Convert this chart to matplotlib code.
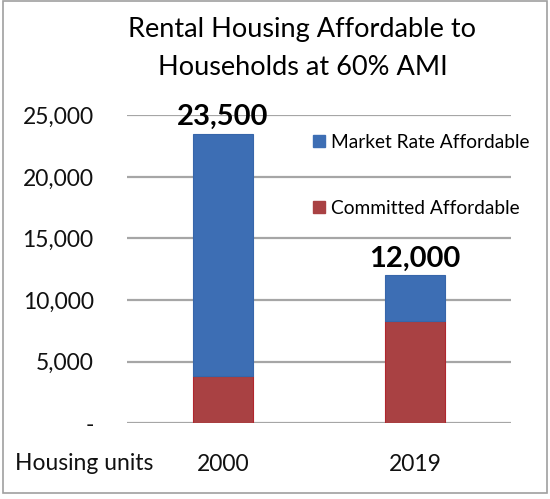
import matplotlib
matplotlib.use('Agg')
import matplotlib.pyplot as plt
from matplotlib.patches import Rectangle
from matplotlib.lines import Line2D
from matplotlib.ticker import FuncFormatter

years = ['2000', '2019']
committed = [3800, 8300]
market_rate = [19700, 3700]
totals = ['23,500', '12,000']

blue = '#3D6EB4'
red = '#A94143'

plt.rcParams['font.family'] = ['Lato', 'DejaVu Sans']

fig = plt.figure(figsize=(5.5, 4.99), dpi=100)
ax = fig.add_axes([0.231, 0.152, 0.698, 0.617])

x = range(len(years))
ax.bar(x, committed, width=0.31, color=red, edgecolor='#B0262E', linewidth=0.8, zorder=3)
ax.bar(x, market_rate, bottom=committed, width=0.31, color=blue, edgecolor='#3766AA',
       linewidth=0.8, zorder=3)

for i, lab in enumerate(totals):
    top = committed[i] + market_rate[i]
    ax.text(i, top + 300, lab, ha='center', va='bottom', fontsize=21, fontweight='bold',
            color='black', clip_on=False)

ax.set_xlim(-0.5, 1.5)
ax.set_ylim(0, 25000)
ax.set_yticks(range(0, 25001, 5000))
ax.yaxis.set_major_formatter(FuncFormatter(lambda v, p: '-' if v == 0 else f'{int(v):,}'))
ax.set_xticks(list(x))
ax.set_xticklabels(years)
ax.tick_params(axis='both', length=0, labelsize=16.5, colors='#111111')
ax.tick_params(axis='y', pad=24)
ax.tick_params(axis='x', pad=22)
ax.grid(axis='y', color='#A6A6A6', linewidth=1.6, zorder=0)
for s in ax.spines.values():
    s.set_visible(False)

fig.text(0.153, 0.072, 'Housing units', ha='center', va='center', fontsize=16.5, color='#111111')

fig.text(0.55, 0.94, 'Rental Housing Affordable to', ha='center', va='center', fontsize=19.5)
fig.text(0.55, 0.864, 'Households at 60% AMI', ha='center', va='center', fontsize=19.5)

handles = [Line2D([], [], marker='s', linestyle='', markersize=8, color=blue),
           Line2D([], [], marker='s', linestyle='', markersize=8, color=red)]
ax.legend(handles, ['Market Rate Affordable', 'Committed Affordable'],
          loc='upper left', bbox_to_anchor=(0.43, 0.995), frameon=False, fontsize=13.8,
          labelspacing=2.55, handletextpad=0.15, handlelength=1.0)

fig.add_artist(Rectangle((0.006, 0.012), 0.988, 0.985, transform=fig.transFigure,
                         fill=False, edgecolor='#A0A0A0', linewidth=1.2))

fig.savefig('out.png', dpi=100)
